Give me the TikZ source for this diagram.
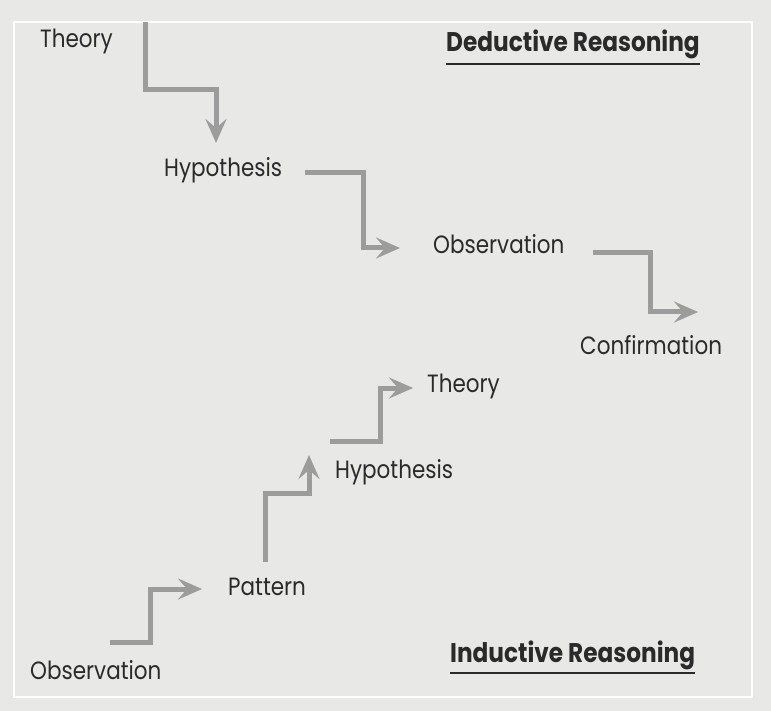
\documentclass[tikz,border=0pt]{standalone}
\usepackage{fontspec}
\setmainfont{Poppins}[FakeStretch=0.86]
\usepackage{tikz}
\usetikzlibrary{arrows.meta,positioning}
\definecolor{cpaper}{HTML}{E8E8E6}
\definecolor{cstair}{HTML}{9C9C9C}
\definecolor{cink}{HTML}{2A2A2A}
\tikzset{
  word/.style={inner sep=0pt,anchor=base west,text=cink,font=\fontsize{25}{28}\selectfont},
  heading/.style={inner sep=0pt,anchor=base west,text=cink,font=\fontsize{27}{30}\selectfont\bfseries},
  stair/.style={draw=cstair,line width=5pt,
    -{Stealth[length=24pt,width=21pt,inset=9pt]}},
  >=Stealth
}

\begin{document}
\begin{tikzpicture}[x=1pt,y=-1pt]
    \useasboundingbox (0,0) rectangle (771,711);
    \fill[cpaper] (0,0) rectangle (771,711);
    \draw[white,line width=2pt] (14,22) rectangle (752,697);

    % deductive, top half
    \node[heading] (ded) at (446,52) {Deductive Reasoning};
    \draw[cink,line width=1.2pt] (ded.base west) ++(0,12) coordinate (dul) -- (dul -| ded.east);
    \node[word] (th1) at (40,48) {Theory};
    \node[word] (hy1) at (164,177) {Hypothesis};
    \node[word] (ob1) at (433,254) {Observation};
    \node[word] (co1) at (580,354) {Confirmation};

    \coordinate (d1) at (145,22);
    \coordinate (d2) at (305,173);
    \coordinate (d3) at (593,253);
    \draw[stair] (d1) -- ++(0,68) -| (216,143);
    \draw[stair] (d2) -- ++(58,0) |- ([xshift=-33pt]ob1.west |- 0,248);
    \draw[stair] (d3) -- ++(57,0) |- (698,312);

    % inductive, bottom half
    \node[heading] (ind) at (450,662) {Inductive Reasoning};
    \draw[cink,line width=1.2pt] (ind.base west) ++(0,11) coordinate (iul) -- (iul -| ind.east);
    \node[word] (ob2) at (30,679) {Observation};
    \node[word] (pa) at (228,595) {Pattern};
    \node[word] (hy2) at (335,478) {Hypothesis};
    \node[word] (th2) at (427,392) {Theory};

    \coordinate (i1) at (110,642);
    \coordinate (i2) at (265,562);
    \coordinate (i3) at (330,441);
    \draw[stair] (i1) -- ++(40,0) |- ([xshift=-26pt]pa.west |- 0,589);
    \draw[stair] (i2) -- ++(0,-69) -| (309,455);
    \draw[stair] (i3) -- ++(50,0) |- ([xshift=-14pt]th2.west |- 0,388);
  \end{tikzpicture}
\end{document}
